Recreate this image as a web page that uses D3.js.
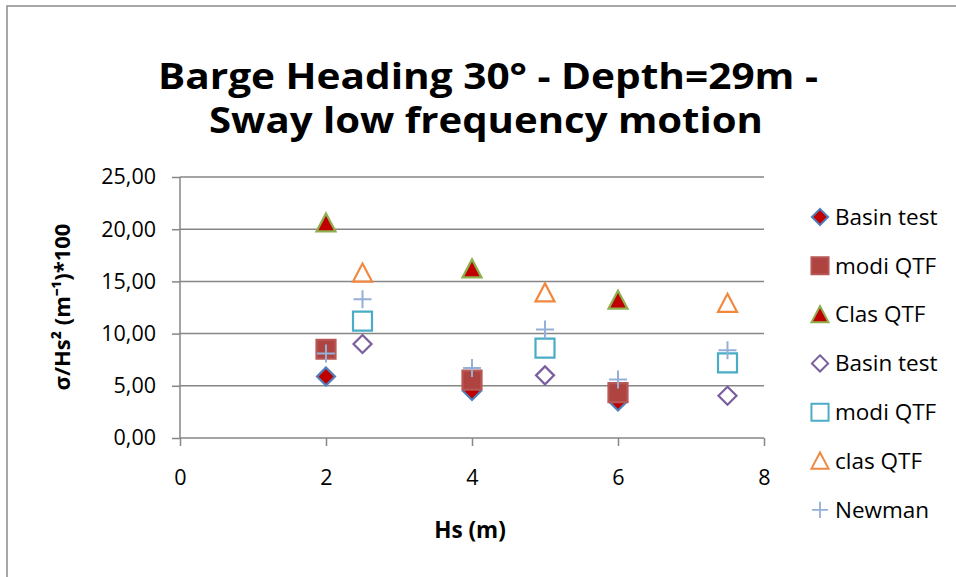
<!DOCTYPE html>
<html><head><meta charset="utf-8">
<script src="https://cdn.jsdelivr.net/npm/d3@7"></script>
<style>html,body{margin:0;padding:0;background:#fff;}svg{display:block;font-family:"Open Sans",sans-serif;}</style>
</head><body>
<svg id="chart" width="956" height="577"></svg>
<script>
const titleLines = ["Barge Heading 30° - Depth=29m -", "Sway low frequency motion"];
const xTicks = [0, 2, 4, 6, 8];
const yTicks = [0, 5, 10, 15, 20, 25];
const hsA = [2, 4, 6];
const hsB = [2.5, 5, 7.5];
const hsN = [2, 2.5, 4, 5, 6, 7.5];
const basinTestA = [5.9, 4.5, 3.5];
const modiQtfA = [8.5, 5.55, 4.35];
const clasQtfA = [20.6, 16.2, 13.2];
const basinTestB = [9.0, 6.0, 4.05];
const modiQtfB = [11.2, 8.6, 7.2];
const clasQtfB = [15.8, 13.9, 12.9];
const newman = [8.1, 13.3, 6.7, 10.4, 5.6, 8.4];
const seriesNames = ["Basin test", "modi QTF", "Clas QTF", "Basin test", "modi QTF", "clas QTF", "Newman"];

const series = [
  {name: seriesNames[0], xs: hsA, ys: basinTestA, shape: "diamond", fill: "#C00000", stroke: "#4F81BD"},
  {name: seriesNames[1], xs: hsA, ys: modiQtfA, shape: "square", fill: "#AE4340", stroke: "#B65856"},
  {name: seriesNames[2], xs: hsA, ys: clasQtfA, shape: "triangle", fill: "#C00000", stroke: "#8FB04F"},
  {name: seriesNames[3], xs: hsB, ys: basinTestB, shape: "diamond", fill: "none", stroke: "#7A5FA0"},
  {name: seriesNames[4], xs: hsB, ys: modiQtfB, shape: "square", fill: "none", stroke: "#4BACC6"},
  {name: seriesNames[5], xs: hsB, ys: clasQtfB, shape: "triangle", fill: "none", stroke: "#F0883E"},
  {name: seriesNames[6], xs: hsN, ys: newman, shape: "plus", fill: "none", stroke: "#95B0D8"}
];

const svg = d3.select("#chart");
svg.append("rect").attr("x", 7).attr("y", 6).attr("width", 960).attr("height", 600)
  .attr("fill", "#fff").attr("stroke", "#8a8a8a").attr("stroke-width", 1.5);

const x = d3.scaleLinear().domain([0, 8]).range([180, 764]);
const y = d3.scaleLinear().domain([0, 25]).range([438, 177]);

// gridlines
svg.append("g").selectAll("line").data(yTicks.slice(1)).join("line")
  .attr("x1", x(0)).attr("x2", x(8)).attr("y1", d => y(d)).attr("y2", d => y(d))
  .attr("stroke", "#868686").attr("stroke-width", 1.5);

const fmt = d => d.toFixed(2).replace(".", ",");
const yAxis = svg.append("g").attr("transform", `translate(${x(0)},0)`)
  .call(d3.axisLeft(y).tickValues(yTicks).tickFormat(fmt).tickSize(8).tickPadding(16));
const xAxis = svg.append("g").attr("transform", `translate(0,${y(0)})`)
  .call(d3.axisBottom(x).tickValues(xTicks).tickSize(8).tickPadding(24));
[yAxis, xAxis].forEach(g => {
  g.select(".domain").attr("stroke", "#868686").attr("stroke-width", 1.5);
  g.selectAll(".tick line").attr("stroke", "#868686").attr("stroke-width", 1.5);
  g.selectAll("text").attr("fill", "#000").style("font-size", "21.5px").style("font-family", "Open Sans");
});
yAxis.selectAll(".domain").attr("d", `M0,${y(25)}V${y(0)}`);
xAxis.selectAll(".domain").attr("d", `M${x(0)},0H${x(8)}`);

// titles (two separate lines)
const titlePos = [[488, 89, 660], [486, 133, 554]];
titleLines.forEach((line, i) => {
  svg.append("text").attr("x", titlePos[i][0]).attr("y", titlePos[i][1])
    .attr("text-anchor", "middle").style("font-weight", "bold").style("font-size", "36px")
    .attr("fill", "#000").attr("textLength", titlePos[i][2]).attr("lengthAdjust", "spacingAndGlyphs")
    .text(line);
});

svg.append("text").attr("x", 470).attr("y", 538).attr("text-anchor", "middle")
  .style("font-weight", "bold").style("font-size", "22.5px").text("Hs (m)");
svg.append("text").attr("transform", "translate(70,307) rotate(-90)").attr("text-anchor", "middle")
  .style("font-weight", "bold").style("font-size", "22px").text("σ/Hs² (m⁻¹)*100");

function shapePath(shape) {
  if (shape === "diamond") return "M0,-9L9,0L0,9L-9,0Z";
  if (shape === "square") return "M-9.5,-9.5H9.5V9.5H-9.5Z";
  if (shape === "triangle") return "M0,-9.5L9.5,8.5H-9.5Z";
  return "M-9,0H9M0,-9V9";
}

series.forEach(s => {
  const pts = s.xs.map((v, i) => [v, s.ys[i]]);
  svg.append("g").selectAll("path").data(pts).join("path")
    .attr("transform", d => `translate(${x(d[0])},${y(d[1])})`)
    .attr("d", shapePath(s.shape))
    .attr("fill", s.fill).attr("stroke", s.stroke)
    .attr("stroke-width", s.shape === "plus" ? 2 : 2.2);
});

// legend
const lg = svg.append("g");
series.forEach((s, i) => {
  const ly = 217 + i * 48.8;
  lg.append("path").attr("transform", `translate(820,${ly}) scale(0.9)`).attr("d", shapePath(s.shape))
    .attr("fill", s.fill).attr("stroke", s.stroke).attr("stroke-width", s.shape === "plus" ? 2 : 2.2);
  lg.append("text").attr("x", 835).attr("y", ly).attr("dy", "0.35em").style("font-size", "22.5px").text(s.name);
});
</script>
</body></html>
